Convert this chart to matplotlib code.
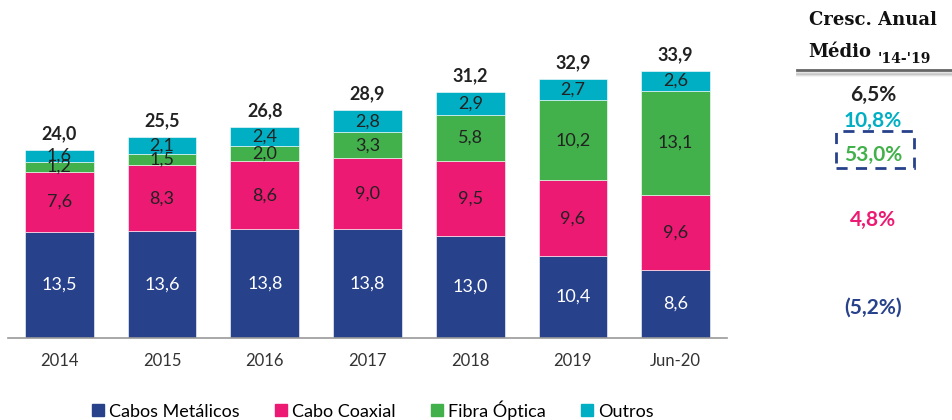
import matplotlib
matplotlib.use("Agg")
import matplotlib.pyplot as plt
from matplotlib.patches import Rectangle
from matplotlib.lines import Line2D
import numpy as np

plt.rcParams['font.family'] = ['Lato', 'DejaVu Sans']

periods = ["2014", "2015", "2016", "2017", "2018", "2019", "Jun-20"]
series_names = ["Cabos Metálicos", "Cabo Coaxial", "Fibra Óptica", "Outros"]
cabos_metalicos = [13.5, 13.6, 13.8, 13.8, 13.0, 10.4, 8.6]
cabo_coaxial = [7.6, 8.3, 8.6, 9.0, 9.5, 9.6, 9.6]
fibra_optica = [1.2, 1.5, 2.0, 3.3, 5.8, 10.2, 13.1]
outros = [1.6, 2.1, 2.4, 2.8, 2.9, 2.7, 2.6]
totals = [24.0, 25.5, 26.8, 28.9, 31.2, 32.9, 33.9]
growth_labels = ["6,5%", "10,8%", "53,0%", "4,8%", "(5,2%)"]

colors = ["#27418B", "#EC1A72", "#43B14B", "#00AFC3"]
label_colors = ["white", "#222222", "#222222", "#222222"]
growth_colors = ["#222222", "#00AFC3", "#43B14B", "#EC1A72", "#27418B"]

def fmt(v):
    return f"{v:.1f}".replace(".", ",")

W, H = 953, 420
fig = plt.figure(figsize=(W / 100, H / 100), dpi=100)
ax = fig.add_axes([8 / W, (H - 338) / H, 719 / W, (338 - 20) / H])

series = [cabos_metalicos, cabo_coaxial, fibra_optica, outros]
x = np.arange(len(periods))
bottom = np.zeros(len(periods))
for vals, col, lc, name in zip(series, colors, label_colors, series_names):
    vals = np.array(vals)
    ax.bar(x, vals, width=0.67, bottom=bottom, color=col, label=name,
           edgecolor="white", linewidth=0.4)
    for xi, b, v in zip(x, bottom, vals):
        ax.text(xi, b + v / 2, fmt(v), ha="center", va="center",
                fontsize=13, color=lc)
    bottom = bottom + vals

for xi, t, top in zip(x, totals, bottom):
    ax.text(xi, top + 1.0, fmt(t), ha="center", va="bottom",
            fontsize=13, fontweight="bold", color="#222222")

ax.set_xlim(-0.5, 6.5)
ax.set_ylim(0, (338 - 20) / 7.88)
ax.set_xticks(x)
ax.set_xticklabels(periods, fontsize=12, color="#333333")
ax.tick_params(axis="x", length=0, pad=11)
ax.set_yticks([])
for s in ["top", "right", "left"]:
    ax.spines[s].set_visible(False)
ax.spines["bottom"].set_color("#999999")
ax.spines["bottom"].set_linewidth(1.2)

# Legend along the bottom edge
handles = [Line2D([0], [0], marker="s", linestyle="none", markersize=9,
                  markerfacecolor=c, markeredgecolor=c) for c in colors]
fig.legend(handles, series_names, loc="center", bbox_to_anchor=(372 / W, 1 - 410 / H),
           ncol=4, frameon=False, fontsize=13, handletextpad=0.2,
           columnspacing=1.9, handlelength=0.8)

# Average annual growth column
def fy(py):
    return 1 - py / H

def fx(px):
    return px / W

serif = ["DejaVu Serif"]
fig.text(fx(873), fy(20), "Cresc. Anual", ha="center", va="center",
         fontsize=13, fontweight="bold", family=serif, color="#111111")
fig.text(fx(808), fy(52), "Médio", ha="left", va="center",
         fontsize=13, fontweight="bold", family=serif, color="#111111")
fig.text(fx(878), fy(59), "'14-'19", ha="left", va="center",
         fontsize=10, fontweight="bold", family=serif, color="#111111")
# header rule with a soft shadow
for off, a in [(4, 0.06), (3, 0.08), (2, 0.12)]:
    fig.add_artist(Line2D([fx(797), fx(953)], [fy(71 + off)] * 2,
                          color="black", alpha=a, linewidth=2))
fig.add_artist(Line2D([fx(797), fx(953)], [fy(70)] * 2, color="#666666", linewidth=2))

growth_y = [95, 121, 155, 220, 308]
for lab, col, py in zip(growth_labels, growth_colors, growth_y):
    fig.text(fx(873), fy(py), lab, ha="center", va="center",
             fontsize=15, fontweight="bold", color=col)

fig.add_artist(Rectangle((fx(836), fy(168)), (914 - 836) / W, (168 - 131) / H,
                         transform=fig.transFigure, fill=False,
                         edgecolor="#27418B", linewidth=2, linestyle=(0, (4, 3))))

fig.savefig("out.png", dpi=100)
